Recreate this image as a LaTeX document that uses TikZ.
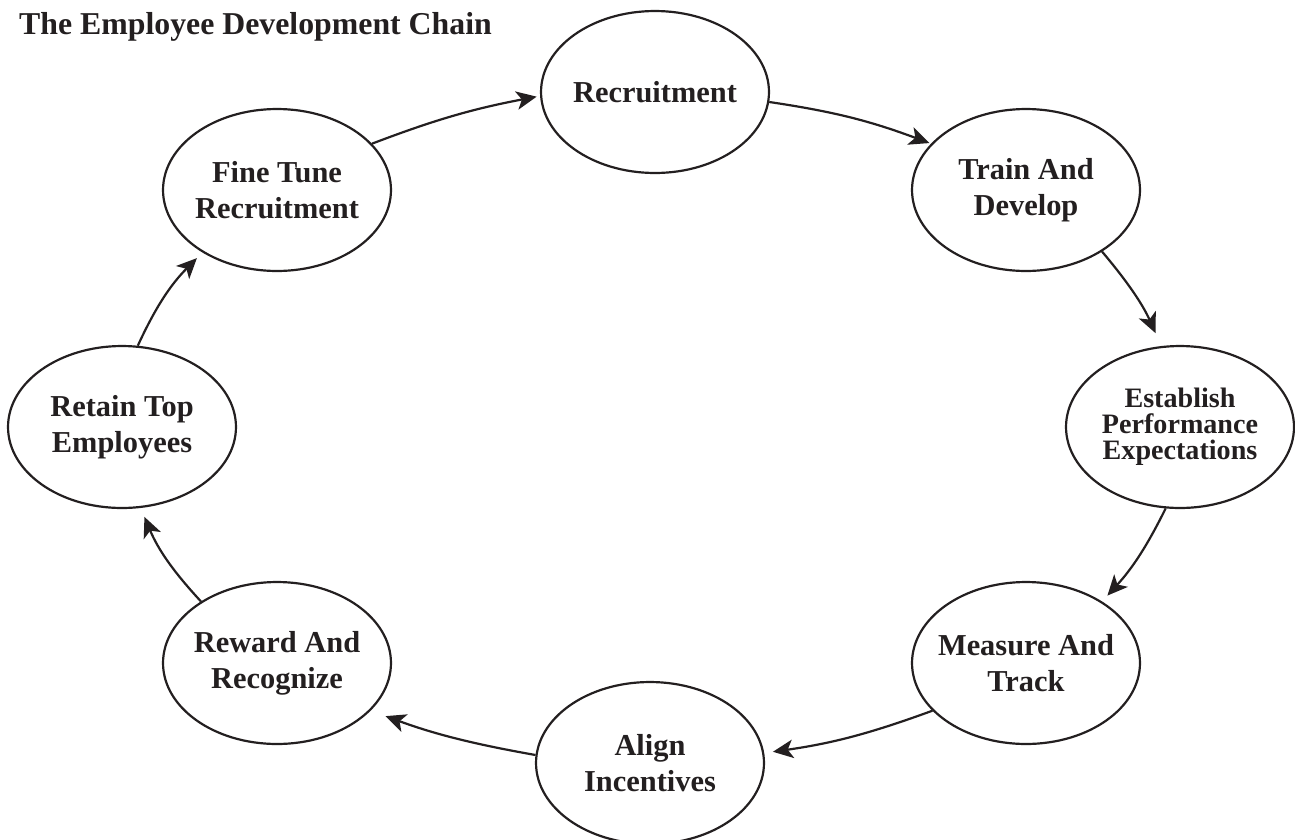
\documentclass[tikz,border=0pt]{standalone}
\usepackage{fontspec}
\setmainfont{Liberation Serif}
\usepackage{tikz}
\usetikzlibrary{arrows.meta, shapes, positioning}
\definecolor{chainink}{RGB}{35, 31, 32}

\begin{document}
\begin{tikzpicture}[x=0.02cm, y=0.02cm,
        stage/.style={ellipse, draw=chainink, line width=1.25pt, minimum width=4.56cm, minimum height=3.24cm, inner sep=0pt},
        stagetext/.style={align=center, text=chainink, font=\fontsize{17.3}{20.4}\selectfont\bfseries},
        flow/.style={chainink, line width=1.25pt, -{Stealth[length=11.5pt, width=10.5pt, inset=3pt]}}]

        \useasboundingbox (0,0) rectangle (1295,-839);

        % Titolo
        \node[anchor=base west, text=chainink, font=\fontsize{18.1}{22}\selectfont\bfseries] (title) at (13,-34) {The Employee Development Chain};

        % Ellissi (in senso orario)
        \node[stage] (rec) at (655,-92) {};
        \node[stage] (train) at (1026,-190) {};
        \node[stage] (est) at (1180,-427) {};
        \node[stage] (meas) at (1026,-663) {};
        \node[stage] (align) at (650,-763) {};
        \node[stage] (rew) at (277,-663) {};
        \node[stage] (ret) at (122,-427) {};
        \node[stage] (fine) at (277,-190) {};

        % Testi
        \node[stagetext] (rectext) at (rec) {Recruitment};
        \node[stagetext] (traintext) at (train) {Train And\\Develop};
        \node[stagetext, font=\fontsize{16}{14.9}\selectfont\bfseries] (esttext) at (est) {Establish\\Performance\\Expectations};
        \node[stagetext] (meastext) at (meas) {Measure And\\Track};
        \node[stagetext] (aligntext) at (align) {Align\\Incentives};
        \node[stagetext] (rewtext) at (rew) {Reward And\\Recognize};
        \node[stagetext] (rettext) at (ret) {Retain Top\\Employees};
        \node[stagetext] (finetext) at (fine) {Fine Tune\\Recruitment};

        % Frecce
        \draw[flow, shorten >=2pt] (fine.26) to[bend left=5] (rec.182);
        \draw[flow, shorten >=1pt] (rec.-5) to[bend left=6] (train.154);
        \draw[flow, shorten >=8pt] (train.-39) to[bend left=8] (est.103);
        \draw[flow, shorten >=4.5pt] (est.-100) to[bend left=8] (meas.39);
        \draw[flow, shorten >=5pt] (meas.207) to[bend left=6] (align.5);
        \draw[flow, shorten >=9pt] (align.176) to[bend left=5] (rew.-27);
        \draw[flow, shorten >=5.5pt] (rew.141) to[bend left=10] (ret.-77);
        \draw[flow, shorten >=4.5pt] (ret.79) to[bend left=10] (fine.220);
    \end{tikzpicture}
\end{document}
